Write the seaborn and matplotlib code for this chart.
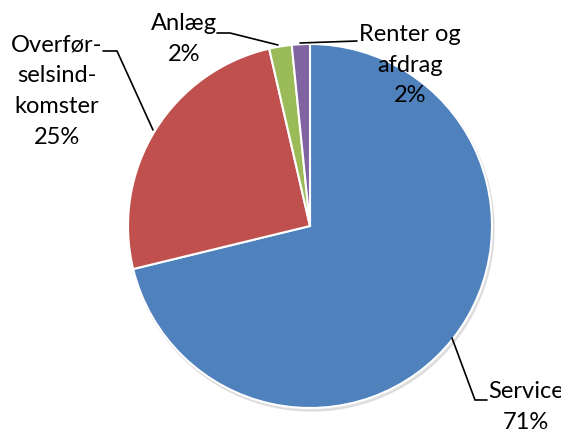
import matplotlib
matplotlib.use("Agg")
import matplotlib.pyplot as plt
import seaborn as sns
from matplotlib.patches import Circle

# Data
categories = ["Service", "Overfør-\nselsind-\nkomster", "Anlæg", "Renter og\nafdrag"]
values = [71.2, 25.2, 2.0, 1.6]
pct_labels = ["71%", "25%", "2%", "2%"]
colors = ["#4F81BD", "#C0504D", "#9BBB59", "#8064A2"]

sns.set_theme(style="white")
plt.rcParams['font.family'] = ['Lato', 'DejaVu Sans']

W, H = 561, 434
fig = plt.figure(figsize=(W / 100, H / 100), dpi=100)
ax = fig.add_axes([0, 0, 1, 1])
ax.set_xlim(0, W)
ax.set_ylim(0, H)
ax.set_aspect('equal')
ax.axis('off')

cx, cy, r = 310, H - 226, 182

# subtle shadow
ax.add_patch(Circle((cx + 1.5, cy - 2.5), r + 0.5, color='#c8c8c8', alpha=0.5, zorder=0))

ax.pie(values, colors=sns.color_palette(colors), startangle=90, counterclock=False,
       center=(cx, cy), radius=r, frame=True,
       wedgeprops=dict(edgecolor='white', linewidth=1.5, zorder=1))
ax.set_xlim(0, W)
ax.set_ylim(0, H)
ax.axis('off')

def Y(y):
    return H - y

fs = 17
ls = 1.58
# label positions (pixel coords of text center) and leader lines
label_pos = [(526, 407), (57, 91), (184, 39), (410, 65)]
leaders = [
    [(452, 338), (475, 400), (487, 400)],
    [(103, 51), (117, 51), (153, 130)],
    [(217, 33), (230, 33), (278, 45)],
    [(357, 41), (300, 43)],
]

for cat, pct, (tx, ty), ld in zip(categories, pct_labels, label_pos, leaders):
    ax.text(tx, Y(ty), f"{cat}\n{pct}", ha='center', va='center', fontsize=fs,
            linespacing=ls, color='black', zorder=5)
    xs = [p[0] for p in ld]
    ys = [Y(p[1]) for p in ld]
    ax.plot(xs, ys, color='black', linewidth=1.2, zorder=4, solid_joinstyle='miter')

fig.savefig("out.png", dpi=100)
